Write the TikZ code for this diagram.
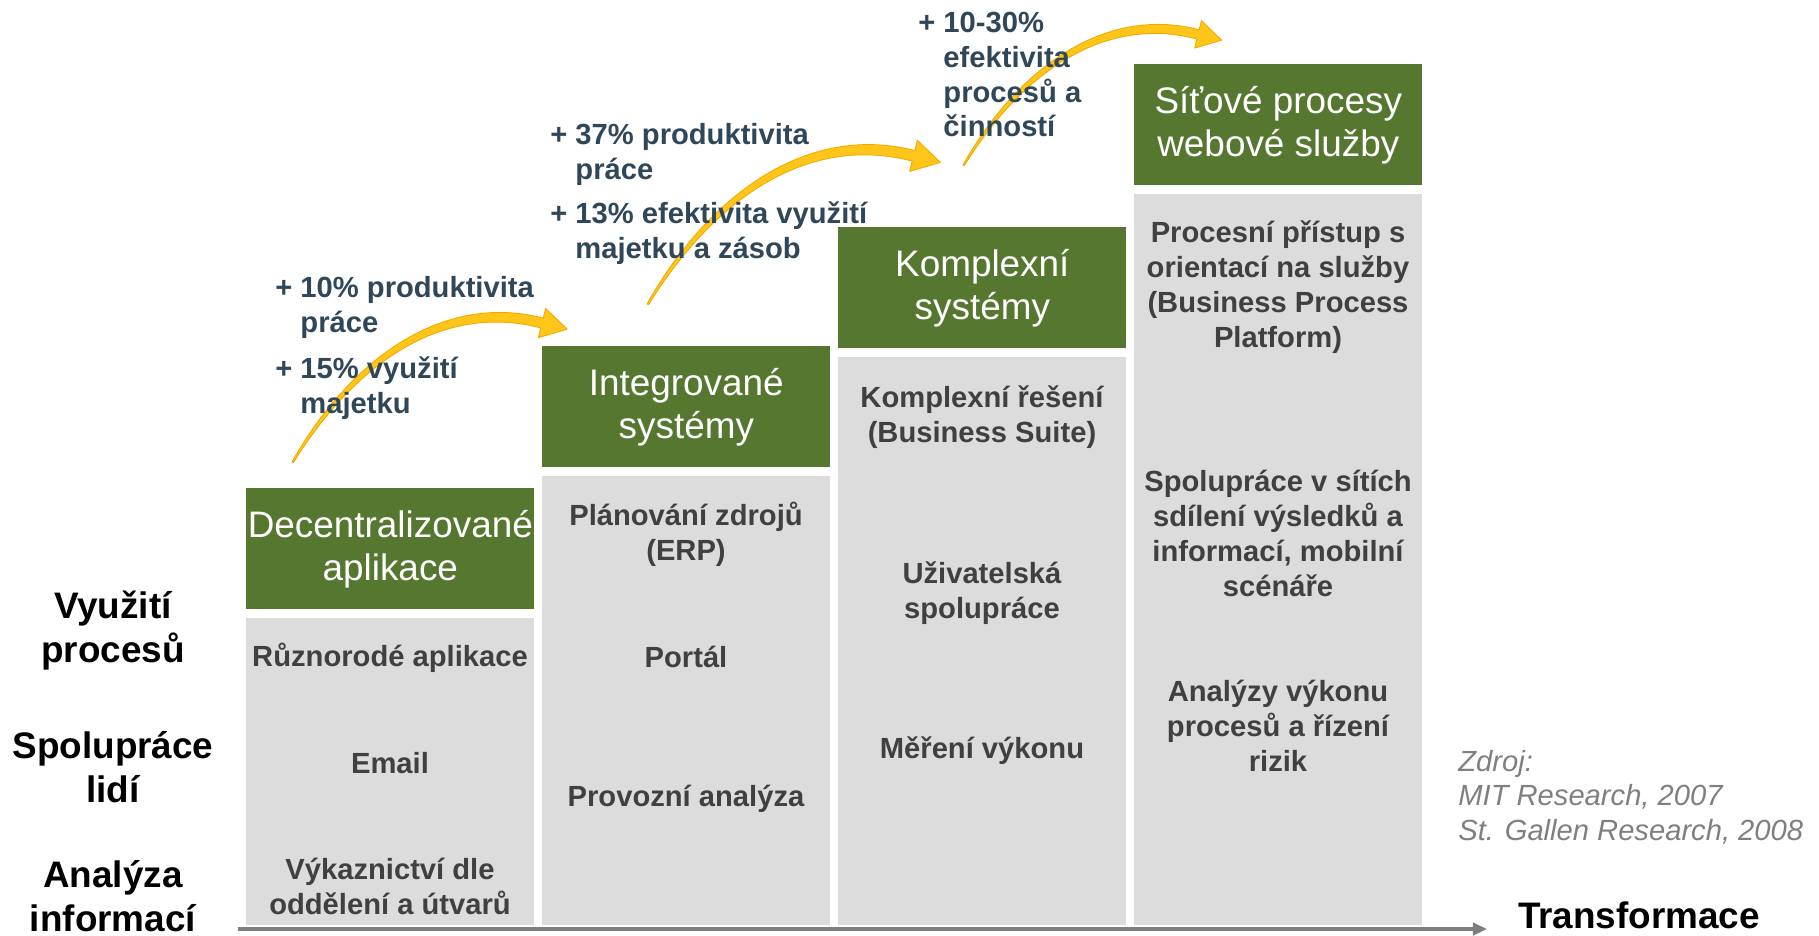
\documentclass[tikz,border=0pt]{standalone}
\usepackage{fontspec}
\setmainfont{Liberation Sans}
\usetikzlibrary{arrows.meta}
\definecolor{stagegreen}{HTML}{56772F}
\definecolor{stagegray}{HTML}{DCDCDC}
\definecolor{celltext}{HTML}{404040}
\definecolor{gaintext}{HTML}{2F4759}
\definecolor{gainyellow}{HTML}{FFC619}
\definecolor{gainedge}{HTML}{F2A900}
\definecolor{axisgray}{HTML}{7F7F7F}
\tikzset{
  stage/.style={fill=stagegreen, text=white, inner sep=0pt, anchor=north west,
    minimum width=5.76cm, minimum height=2.42cm, align=center,
    font=\fontsize{21}{24.5}\selectfont},
  column/.style={fill=stagegray, inner sep=0pt, anchor=north west,
    minimum width=5.76cm},
  item/.style={text=celltext, inner sep=0pt, align=center,
    font=\bfseries\fontsize{16.6}{19.9}\selectfont},
  gainnote/.style={text=gaintext, inner sep=0pt, anchor=west, align=left,
    font=\bfseries\fontsize{16.6}{19.9}\selectfont},
  level/.style={inner sep=0pt, align=center,
    font=\bfseries\fontsize{21}{25}\selectfont},
  gain arrow/.pic={
    \fill[gainyellow, draw=gainedge, line width=0.5pt, line join=round]
      (0,0) .. controls (58,-103) and (151,-170) .. (251.2,-143.9)
      -- (253.6,-153.6) -- (275.2,-132.8) -- (246.4,-124.4) -- (248.8,-134.1)
      .. controls (149,-160) and (62,-97) .. (1.5,0.5) -- cycle;
  }
}
\newcommand{\hang}{\hphantom{+\ }}
\begin{document}
\begin{tikzpicture}[x=0.02cm, y=-0.02cm]
\useasboundingbox (0,0) rectangle (1819,936);

% rows on the left
\node[level] (use) at (113,631) {Využití\\procesů};
\node[level] (people) at (113,767) {Spolupráce\\lidí};
\node[level] (info) at (113,896) {Analýza\\informací};

% stages
\node[stage] (g1) at (246,488) {Decentralizované\\aplikace};
\node[stage] (g2) at (542,346) {Integrované\\systémy};
\node[stage] (g3) at (838,227) {Komplexní\\systémy};
\node[stage] (g4) at (1134,64) {Síťové procesy\\webové služby};

\node[column, minimum height=6.14cm] (b1) at (246,618) {};
\node[column, minimum height=8.98cm] (b2) at (542,476) {};
\node[column, minimum height=11.36cm] (b3) at (838,357) {};
\node[column, minimum height=14.62cm] (b4) at (1134,194) {};

% column contents
\node[item] (b1a) at (390,658) {Různorodé aplikace};
\node[item] (b1b) at (390,763) {Email};
\node[item] (b1c) at (390,886) {Výkaznictví dle\\oddělení a útvarů};

\node[item] (b2a) at (686,534) {Plánování zdrojů\\(ERP)};
\node[item] (b2b) at (686,656.5) {Portál};
\node[item] (b2c) at (686,799) {Provozní analýza};

\node[item] (b3a) at (982,417) {Komplexní řešení\\(Business Suite)};
\node[item] (b3b) at (982,593.5) {Uživatelská\\spolupráce};
\node[item] (b3c) at (982,751) {Měření výkonu};

\node[item] (b4a) at (1278,287.5) {Procesní přístup s\\orientací na služby\\(Business Process\\Platform)};
\node[item] (b4b) at (1278,533) {Spolupráce v sítích\\sdílení výsledků a\\informací, mobilní\\scénáře};
\node[item] (b4c) at (1278,726) {Analýzy výkonu\\procesů a řízení\\rizik};

% gains
\pic at (292,462) {gain arrow};
\pic[scale=1.066] at (647,304) {gain arrow};
\pic[scale=0.94] at (963,165) {gain arrow};

\node[gainnote] (n1a) at (275,307.5) {+ 10\% produktivita\\\hang práce};
\node[gainnote] (n1b) at (275,388) {+ 15\% využití\\\hang majetku};
\node[gainnote] (n2a) at (550,154) {+ 37\% produktivita\\\hang práce};
\node[gainnote] (n2b) at (550,233) {+ 13\% efektivita využití\\\hang majetku a zásob};
\node[gainnote] (n3a) at (918,74.5) {+ 10-30\%\\\hang efektivita\\\hang procesů a\\\hang činností};

% source and axis
\node[inner sep=0pt, anchor=west, align=left, text=axisgray,
  font=\itshape\fontsize{16.6}{19.6}\selectfont] (source) at (1458,797)
  {Zdroj:\\MIT Research, 2007\\St. Gallen Research, 2008};
\node[level] (trans) at (1639,915) {Transformace};
\coordinate (axis start) at (238,929);
\coordinate (axis end) at (1487,929);
\draw[axisgray, line width=2.3pt, -{Triangle[length=8pt,width=7pt]}] (axis start) -- (axis end);
\end{tikzpicture}
\end{document}
